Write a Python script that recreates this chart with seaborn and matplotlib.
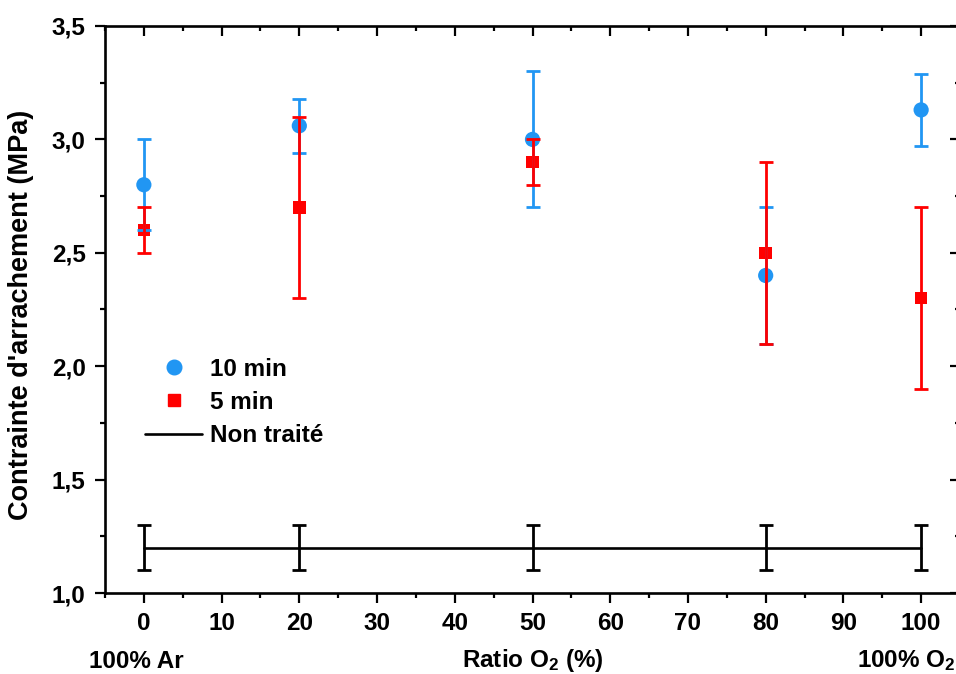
import matplotlib
matplotlib.use("Agg")
import matplotlib.pyplot as plt
from matplotlib.lines import Line2D
from matplotlib.ticker import MultipleLocator, FixedLocator, FixedFormatter
import seaborn as sns
import pandas as pd

# ---- data ----
ratio_o2 = [0, 20, 50, 80, 100]
min10_mean = [2.80, 3.06, 3.00, 2.40, 3.13]
min10_err = [0.20, 0.12, 0.30, 0.30, 0.16]
min5_mean = [2.60, 2.70, 2.90, 2.50, 2.30]
min5_err = [0.10, 0.40, 0.10, 0.40, 0.40]
untreated_mean = [1.2, 1.2, 1.2, 1.2, 1.2]
untreated_err = [0.1, 0.1, 0.1, 0.1, 0.1]
series_labels = ["10 min", "5 min", "Non traité"]
xticks = [0, 10, 20, 30, 40, 50, 60, 70, 80, 90, 100]
yticks = [1.0, 1.5, 2.0, 2.5, 3.0, 3.5]
ytick_labels = ["1,0", "1,5", "2,0", "2,5", "3,0", "3,5"]

BLUE = "#2196F3"
RED = "#FF0000"
BLACK = "#000000"

sns.set_theme(style="ticks")
plt.rcParams["font.family"] = ["Liberation Sans", "DejaVu Sans"]
plt.rcParams["font.weight"] = "bold"
plt.rcParams["text.color"] = BLACK
plt.rcParams["axes.labelcolor"] = BLACK
plt.rcParams["xtick.color"] = BLACK
plt.rcParams["ytick.color"] = BLACK
plt.rcParams["mathtext.fontset"] = "custom"
plt.rcParams["mathtext.rm"] = "Liberation Sans:bold"
plt.rcParams["mathtext.it"] = "Liberation Sans:bold"
plt.rcParams["mathtext.bf"] = "Liberation Sans:bold"

TICK_FS = 17.5
LAB_FS = 17.5

df10 = pd.DataFrame({"x": ratio_o2, "y": min10_mean})
df5 = pd.DataFrame({"x": ratio_o2, "y": min5_mean})
dfu = pd.DataFrame({"x": ratio_o2, "y": untreated_mean})

fig = plt.figure(figsize=(9.56, 6.74), dpi=100)
ax = fig.add_axes([105 / 956, (674 - 593) / 674, (960 - 105) / 956, (593 - 26) / 674])

EW = 2.0
CS = 5

# untreated line
sns.lineplot(data=dfu, x="x", y="y", color=BLACK, linewidth=1.9, ax=ax, zorder=2)
ax.errorbar(ratio_o2, untreated_mean, yerr=untreated_err, fmt="none", ecolor=BLACK,
            elinewidth=EW, capsize=CS, capthick=EW, zorder=2)

# markers
sns.scatterplot(data=df10, x="x", y="y", color=BLUE, marker="o", s=120,
                edgecolor="none", ax=ax, zorder=3)
sns.scatterplot(data=df5, x="x", y="y", color=RED, marker="s", s=80,
                edgecolor="none", ax=ax, zorder=3)

# error bars
ax.errorbar(ratio_o2, min10_mean, yerr=min10_err, fmt="none", ecolor=BLUE,
            elinewidth=EW, capsize=CS, capthick=EW, zorder=4)
ax.errorbar(ratio_o2, min5_mean, yerr=min5_err, fmt="none", ecolor=RED,
            elinewidth=EW, capsize=CS, capthick=EW, zorder=4)

ax.set_xlim(-5, 105)
ax.set_ylim(1.0, 3.5)
ax.set_xlabel("")
ax.set_ylabel("Contrainte d'arrachement (MPa)", fontsize=19.5, fontweight="bold")
ax.yaxis.set_label_coords(-0.083, 0.49)

ax.xaxis.set_major_locator(FixedLocator(xticks))
ax.xaxis.set_minor_locator(MultipleLocator(5))
ax.yaxis.set_major_locator(FixedLocator(yticks))
ax.yaxis.set_major_formatter(FixedFormatter(ytick_labels))
ax.yaxis.set_minor_locator(MultipleLocator(0.25))

for s in ax.spines.values():
    s.set_visible(True)
    s.set_linewidth(1.9)
    s.set_color(BLACK)

ax.tick_params(axis="x", which="both", bottom=True, top=True, direction="out",
               labelsize=TICK_FS, pad=7, width=1.6, colors=BLACK)
ax.tick_params(axis="y", which="both", left=True, right=True, direction="out",
               labelsize=TICK_FS, pad=7, width=1.6, colors=BLACK)
ax.tick_params(which="major", length=7)
ax.tick_params(which="minor", length=3.5)
# top and right ticks point inward
for t in ax.xaxis.get_major_ticks() + ax.xaxis.get_minor_ticks():
    t.tick2line.set_marker(matplotlib.markers.TICKDOWN)
for t in ax.yaxis.get_major_ticks() + ax.yaxis.get_minor_ticks():
    t.tick2line.set_marker(matplotlib.markers.TICKLEFT)
for lab in ax.get_xticklabels() + ax.get_yticklabels():
    lab.set_fontweight("bold")

handles = [
    Line2D([], [], color=BLUE, marker="o", linestyle="none", markersize=10.5),
    Line2D([], [], color=RED, marker="s", linestyle="none", markersize=8.5),
    Line2D([], [], color=BLACK, linewidth=1.9),
]
leg = ax.legend(handles, series_labels, loc="upper left", bbox_to_anchor=(0.047, 0.415),
                frameon=False, fontsize=LAB_FS, handlelength=2.35, handletextpad=0.33,
                labelspacing=0.42, borderaxespad=0, borderpad=0)
for txt in leg.get_texts():
    txt.set_fontweight("bold")

fig.text(136 / 956, 1 - 661 / 674, "100% Ar", ha="center", va="center",
         fontsize=LAB_FS, fontweight="bold")
fig.text(533 / 956, 1 - 661 / 674, r"Ratio O$_2$ (%)", ha="center", va="center",
         fontsize=LAB_FS, fontweight="bold")
fig.text(857 / 956, 1 - 661 / 674, r"100% O$_2$", ha="left", va="center",
         fontsize=LAB_FS, fontweight="bold")

fig.savefig("out.png", dpi=100)
